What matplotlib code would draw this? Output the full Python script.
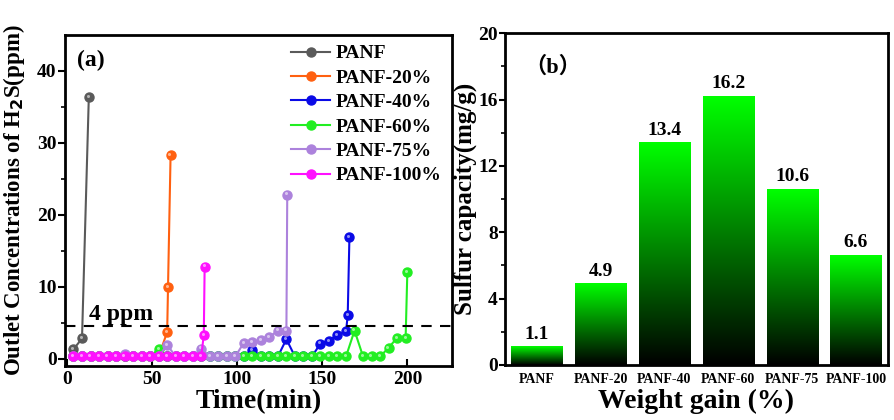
import numpy as np
import matplotlib
matplotlib.use("Agg")
import matplotlib.pyplot as plt
from matplotlib.colors import LinearSegmentedColormap
from matplotlib.transforms import offset_copy

# ---- data ----
# (a) outlet H2S concentration vs time
t_panf = [4, 9, 13]
c_panf = [1.3, 2.8, 36.4]

t_p20 = [4, 9, 14, 19, 24, 29, 34, 39, 44, 49, 54, 59, 59.5, 61]
c_p20 = [0.3, 0.3, 0.3, 0.3, 0.3, 0.3, 0.3, 0.3, 0.3, 0.3, 0.3, 3.7, 10.0, 28.3]

t_p40 = [4, 9, 14, 19, 24, 29, 34, 39, 44, 49, 54, 59, 64, 69, 74, 79, 84, 89, 94, 99,
         104, 109, 114, 119, 124, 129, 134, 139, 144, 149, 154, 159, 164, 165, 166]
c_p40 = [0.3] * 21 + [1.25, 0.3, 0.3, 0.3, 2.7, 0.3, 0.3, 0.3, 2.1, 2.5, 3.3, 3.8, 6.0, 16.9]

t_p60 = [4, 9, 14, 19, 24, 29, 34, 39, 44, 49, 54, 59, 64, 69, 74, 79, 84, 89, 94, 99,
         104, 109, 114, 119, 124, 129, 134, 139, 144, 149, 154, 159, 164,
         169, 174, 179, 184, 189, 194, 199, 200]
c_p60 = [0.3] * 10 + [1.35] + [0.3] * 22 + [3.9, 0.3, 0.3, 0.3, 1.5, 2.9, 2.9, 12.0]

t_p75 = [4, 9, 14, 19, 24, 29, 34, 39, 44, 49, 54, 59, 64, 69, 74, 79, 84, 89, 94, 99,
         104, 109, 114, 119, 124, 129, 129.5]
c_p75 = [0.3] * 6 + [0.6] + [0.3] * 4 + [1.9] + [0.3] * 3 + [1.4] + [0.3] * 4 + \
        [2.2, 2.3, 2.6, 3.0, 3.9, 3.9, 22.8]

t_p100 = [4, 9, 14, 19, 24, 29, 34, 39, 44, 49, 54, 59, 64, 69, 74, 79, 80.5, 81]
c_p100 = [0.3] * 16 + [3.3, 12.8]

names_a = ["PANF", "PANF-20%", "PANF-40%", "PANF-60%", "PANF-75%", "PANF-100%"]
colors_a = ["#5a5a5a", "#ff6010", "#0a0ae6", "#22ee22", "#ac82dc", "#ff10ff"]

# (b) sulfur capacity
samples = ["PANF", "PANF-20", "PANF-40", "PANF-60", "PANF-75", "PANF-100"]
capacity = [1.1, 4.9, 13.4, 16.2, 10.6, 6.6]

plt.rcParams["font.family"] = ["Liberation Serif", "Noto Sans CJK SC"]
plt.rcParams["font.weight"] = "bold"
plt.rcParams["axes.labelweight"] = "bold"

fig = plt.figure(figsize=(8.95, 4.2), dpi=100)
ax1 = fig.add_axes([0.0726, 0.129, 0.432, 0.788])
ax2 = fig.add_axes([0.564, 0.131, 0.428, 0.790])

# ---- panel (a) ----
series = [(t_panf, c_panf), (t_p20, c_p20), (t_p40, c_p40),
          (t_p60, c_p60), (t_p75, c_p75), (t_p100, c_p100)]
hl = offset_copy(ax1.transData, fig=fig, x=-0.8, y=0.8, units="points")
for (t, c), name, col in zip(series, names_a, colors_a):
    ax1.plot(t, c, "-o", color=col, lw=1.5, ms=6.5, mec=col, label=name)
    ax1.plot(t, c, "o", color="white", alpha=0.55, ms=2.2, mec="none", transform=hl)

ax1.axhline(4.5, color="black", ls=(0, (5, 4)), lw=1.5)
ax1.text(13, 5.3, "4 ppm", fontsize=17, fontweight="bold")
ax1.text(0.03, 0.955, "(a)", transform=ax1.transAxes, fontsize=17,
         fontweight="bold", va="top")

ax1.set_xlim(-1, 226)
ax1.set_ylim(-1, 45)
ax1.set_xticks([0, 50, 100, 150, 200])
ax1.set_yticks([0, 10, 20, 30, 40])
ax1.set_yticks([5, 15, 25, 35], minor=True)
ax1.tick_params(axis="x", direction="in", length=5, width=1.5, labelsize=14)
ax1.tick_params(axis="y", which="major", direction="out", length=5, width=1.5,
                labelsize=14, pad=1)
ax1.tick_params(axis="y", which="minor", direction="out", length=3, width=1.2)
for lab in ax1.get_xticklabels() + ax1.get_yticklabels():
    lab.set_fontweight("bold")
ax1.set_xlabel("Time(min)", fontsize=20, labelpad=1)
ax1.set_ylabel("Outlet Concentrations of H$_\\mathbf{2}$S(ppm)", fontsize=16.5, labelpad=3)
ax1.yaxis.set_label_coords(-0.098, 0.5)
for s in ax1.spines.values():
    s.set_linewidth(2)

leg = ax1.legend(loc="upper left", bbox_to_anchor=(0.585, 0.97), frameon=False,
                 fontsize=14, handlelength=2, handletextpad=0.3, labelspacing=0.35,
                 borderpad=0, borderaxespad=0, numpoints=1)

# ---- panel (b) ----
x = np.arange(len(samples))
bars = ax2.bar(x, capacity, width=0.8, color="none", edgecolor="none")
grad = np.linspace(0, 1, 256).reshape(-1, 1)
cmap = LinearSegmentedColormap.from_list("gk", ["#000000", "#00ff00"])
for b, v in zip(bars, capacity):
    x0, w, h = b.get_x(), b.get_width(), b.get_height()
    ax2.imshow(grad, extent=[x0, x0 + w, 0, h], origin="lower", cmap=cmap,
               aspect="auto", zorder=2)
    ax2.text(b.get_x() + w / 2, h + 0.25, f"{v}", ha="center", va="bottom",
             fontsize=14, fontweight="bold")

ax2.set_xlim(-0.5, 5.5)
ax2.set_ylim(0, 20)
ax2.set_xticks(x)
ax2.set_xticklabels(samples)
ax2.set_yticks([0, 4, 8, 12, 16, 20])
ax2.set_yticks([2, 6, 10, 14, 18], minor=True)
ax2.tick_params(axis="x", length=0, labelsize=10, pad=6)
ax2.tick_params(axis="y", which="major", direction="out", length=4, width=1.5,
                labelsize=14, pad=1)
ax2.tick_params(axis="y", which="minor", direction="out", length=3, width=1.2)
for lab in ax2.get_xticklabels() + ax2.get_yticklabels():
    lab.set_fontweight("bold")
ax2.set_xlabel("Weight gain (%)", fontsize=20, labelpad=2)
ax2.set_ylabel("Sulfur capacity(mg/g)", fontsize=18, labelpad=1)
ax2.text(0.05, 0.93, "（b）", transform=ax2.transAxes, fontsize=16,
         fontweight="bold", va="top")
for s in ax2.spines.values():
    s.set_linewidth(2)

fig.savefig("out.png", dpi=100)
